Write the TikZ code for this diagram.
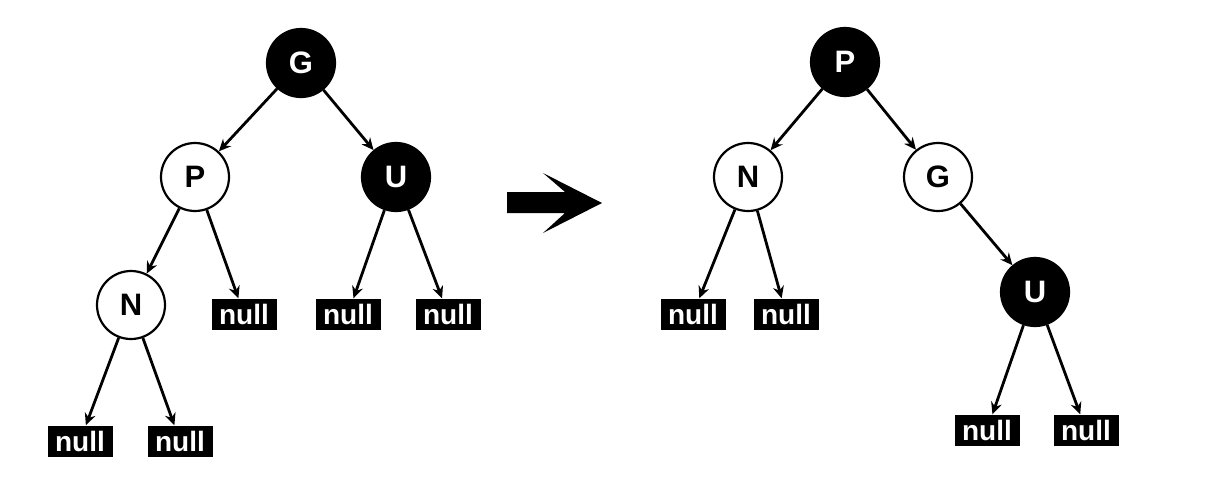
\documentclass[tikz,border=0pt]{standalone}
\usepackage{fontspec}
\setmainfont{Liberation Sans}
\usetikzlibrary{arrows.meta}
\begin{document}
\begin{tikzpicture}[x=1pt,y=-1pt,
 rb/.style={circle, minimum size=68pt, inner sep=0pt, line width=2.2pt, font=\fontsize{31}{31}\selectfont\bfseries},
 blk/.style={rb, fill=black, draw=black, text=white},
 wht/.style={rb, fill=white, draw=black, text=black},
 nil/.style={rectangle, fill=black, text=white, minimum width=65pt, minimum height=31pt, inner sep=0pt, font=\fontsize{28}{28}\selectfont\bfseries},
 edge/.style={line width=2.8pt, -{Stealth[length=12pt,width=11pt,inset=4pt]}}]
\useasboundingbox (0,0) rectangle (1222,480);
% left tree
\node[blk] (G1) at (301,63) {G};
\node[wht] (P1) at (195,177) {P};
\node[blk] (U1) at (396,177) {U};
\node[wht] (N1) at (131,305) {N};
\node[nil] (n1) at (244,314) {null};
\node[nil] (n2) at (348,314) {null};
\node[nil] (n3) at (448,314) {null};
\node[nil] (n4) at (80,441) {null};
\node[nil] (n5) at (180,441) {null};
\draw[edge] (G1) -- (P1);
\draw[edge] (G1) -- (U1);
\draw[edge] (P1) -- (N1);
\draw[edge] (P1) -- (n1);
\draw[edge] (U1) -- (n2);
\draw[edge] (U1) -- (n3);
\draw[edge] (N1) -- (n4);
\draw[edge] (N1) -- (n5);
% transition arrow
\fill (507,192) -- (565,192) -- (543,173) -- (602,203) -- (543,233) -- (565,213) -- (507,213) -- cycle;
% right tree
\node[blk] (P2) at (845,62) {P};
\node[wht] (N2) at (748,177) {N};
\node[wht] (G2) at (938,177) {G};
\node[blk] (U2) at (1035,292) {U};
\node[nil] (m1) at (693,314) {null};
\node[nil] (m2) at (786,314) {null};
\node[nil] (m3) at (987,430) {null};
\node[nil] (m4) at (1086,430) {null};
\draw[edge] (P2) -- (N2);
\draw[edge] (P2) -- (G2);
\draw[edge] (N2) -- (m1);
\draw[edge] (N2) -- (m2);
\draw[edge] (G2) -- (U2);
\draw[edge] (U2) -- (m3);
\draw[edge] (U2) -- (m4);
\end{tikzpicture}
\end{document}
